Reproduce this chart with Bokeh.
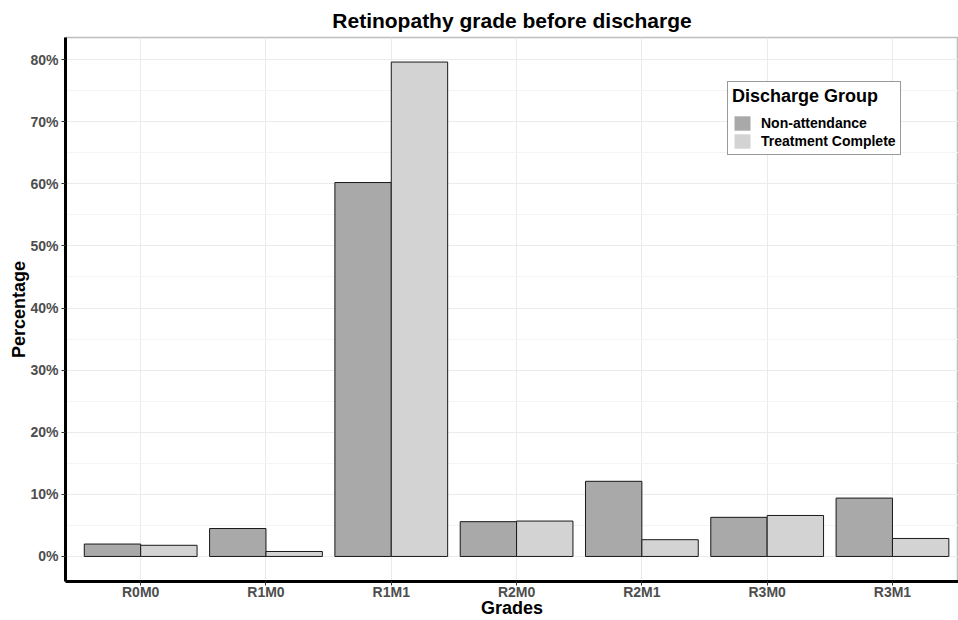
from bokeh.plotting import figure
from bokeh.models import Range1d, FixedTicker, ColumnDataSource, Legend, LegendItem
from bokeh.transform import dodge
from bokeh.embed import file_html
from bokeh.resources import INLINE

grades = ["R0M0", "R1M0", "R1M1", "R2M0", "R2M1", "R3M0", "R3M1"]
non_attendance = [2.0, 4.5, 60.2, 5.6, 12.1, 6.3, 9.4]
treatment_complete = [1.8, 0.8, 79.6, 5.7, 2.7, 6.6, 2.9]
y_ticks = [0, 10, 20, 30, 40, 50, 60, 70, 80]
y_minor = [5, 15, 25, 35, 45, 55, 65, 75]
y_tick_labels = ["0%", "10%", "20%", "30%", "40%", "50%", "60%", "70%", "80%"]

positions = list(range(1, len(grades) + 1))
source = ColumnDataSource(dict(pos=positions, grade=grades,
                               na=non_attendance, tc=treatment_complete))

FONT = "Liberation Sans"
NA_COL = "#a9a9a9"
TC_COL = "#d3d3d3"

p = figure(width=958, height=620, x_range=Range1d(0.4, 7.527), y_range=Range1d(-4.03, 83.55),
           output_backend="svg", toolbar_location=None,
           title="Retinopathy grade before discharge")

# fill-only copies (used for the legend swatches), outlined bars drawn on top
r1 = p.vbar(x=dodge('pos', -0.225), top='na', bottom=0, width=0.45, fill_color=NA_COL,
            line_color=None, source=source)
r2 = p.vbar(x=dodge('pos', 0.225), top='tc', bottom=0, width=0.45, fill_color=TC_COL,
            line_color=None, source=source)
p.vbar(x=dodge('pos', -0.225), top='na', bottom=0, width=0.45, fill_color=NA_COL,
       line_color="#1a1a1a", line_width=1, source=source)
p.vbar(x=dodge('pos', 0.225), top='tc', bottom=0, width=0.45, fill_color=TC_COL,
       line_color="#1a1a1a", line_width=1, source=source)

legend = Legend(items=[LegendItem(label="Non-attendance", renderers=[r1]),
                       LegendItem(label="Treatment Complete", renderers=[r2])],
                title="Discharge Group", location=(662, 426))
legend.title_text_font = FONT
legend.title_text_font_style = "bold"
legend.title_text_font_size = "18px"
legend.title_text_color = "black"
legend.label_text_font = FONT
legend.label_text_font_style = "bold"
legend.label_text_font_size = "14px"
legend.label_text_color = "black"
legend.label_height = 17
legend.glyph_height = 18
legend.glyph_width = 20
legend.label_standoff = 9
legend.spacing = 0
legend.padding = 4
legend.margin = 0
legend.title_standoff = 7
legend.border_line_color = "#333333"
legend.border_line_width = 1
legend.background_fill_color = "white"
p.add_layout(legend, "center")

p.title.text_font = FONT
p.title.text_font_style = "bold"
p.title.text_font_size = "21px"
p.title.align = "center"
p.title.text_color = "black"
p.title.standoff = 12

p.xaxis.ticker = FixedTicker(ticks=positions)
p.xaxis.major_label_overrides = {pos: g for pos, g in zip(positions, grades)}
p.yaxis.ticker = FixedTicker(ticks=y_ticks, minor_ticks=y_minor)
p.yaxis.major_label_overrides = dict(zip(y_ticks, y_tick_labels))
p.xaxis.axis_label = "Grades"
p.yaxis.axis_label = "Percentage"

for ax in (p.xaxis[0], p.yaxis[0]):
    ax.axis_line_width = 3
    ax.axis_line_color = "black"
    ax.major_tick_line_color = "#333333"
    ax.major_tick_out = 4
    ax.major_tick_in = 0
    ax.minor_tick_line_color = None
    ax.major_label_text_font = FONT
    ax.major_label_text_font_style = "bold"
    ax.major_label_text_font_size = "14px"
    ax.major_label_text_color = "#4d4d4d"
    ax.major_label_standoff = 3
    ax.axis_label_text_font = FONT
    ax.axis_label_text_font_style = "bold"
    ax.axis_label_text_font_size = "18px"
    ax.axis_label_text_color = "black"
    ax.axis_label_standoff = -2

p.xaxis.major_label_standoff = -2
p.xaxis.axis_label_standoff = -5

p.xgrid.ticker = FixedTicker(ticks=positions)
p.xgrid.grid_line_color = "#ebebeb"
p.ygrid.grid_line_color = "#ebebeb"
p.ygrid.minor_grid_line_color = "#f4f4f4"

p.outline_line_color = "#bdbdbd"
p.outline_line_width = 1.5
p.background_fill_color = "white"
p.border_fill_color = "white"
p.min_border_left = 65
p.min_border_right = 0
p.min_border_top = 37
p.min_border_bottom = 5

open("out.html", "w").write(file_html(p, INLINE))
